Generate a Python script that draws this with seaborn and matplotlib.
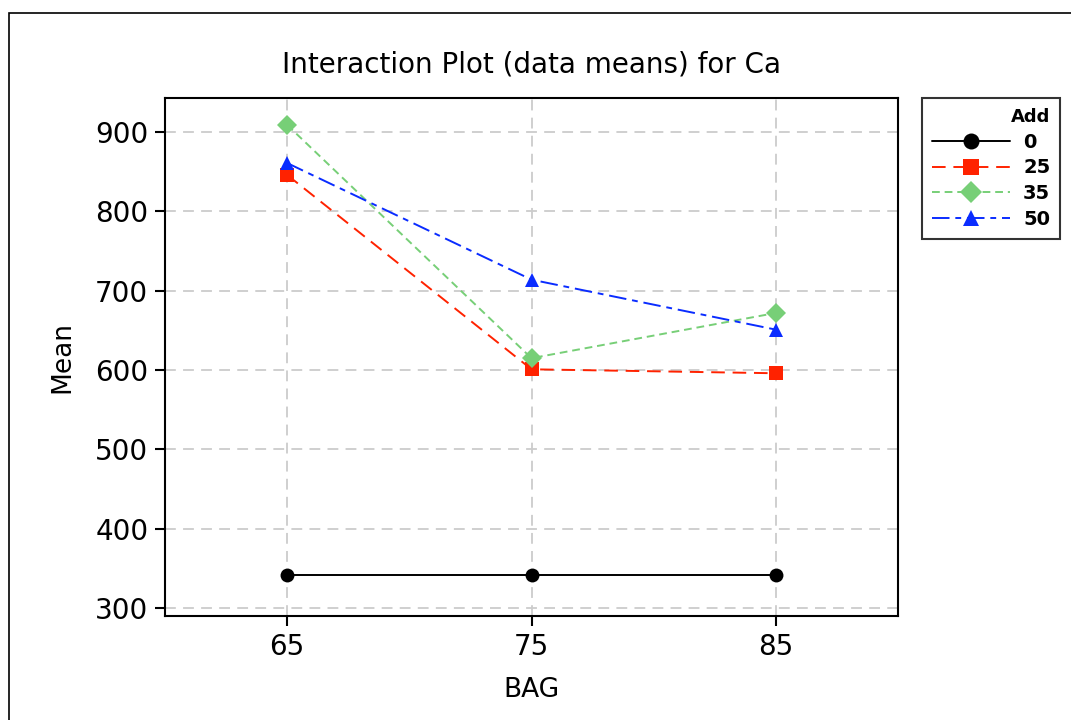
import matplotlib
matplotlib.use("Agg")
import matplotlib.pyplot as plt
import seaborn as sns
import pandas as pd
from matplotlib.patches import Rectangle

bag = [65, 75, 85]
add_levels = ["0", "25", "35", "50"]
mean_0 = [342, 342, 342]
mean_25 = [846, 601, 596]
mean_35 = [909, 615, 672]
mean_50 = [861, 714, 651]
yticks = [300, 400, 500, 600, 700, 800, 900]

rows = []
for lvl, vals in zip(add_levels, [mean_0, mean_25, mean_35, mean_50]):
    for b, v in zip(bag, vals):
        rows.append({"BAG": b, "Mean": v, "Add": lvl})
df = pd.DataFrame(rows)

sns.set_theme(style="white")
plt.rcParams['font.family'] = ['DejaVu Sans']
plt.rcParams['text.color'] = 'black'

palette = {"0": "black", "25": "#FF2200", "35": "#77CF77", "50": "#0A2CFF"}
markers = {"0": "o", "25": "s", "35": "D", "50": "^"}
dashes = {"0": "", "25": (7, 4), "35": (4, 2.5), "50": (9, 3, 3, 3)}

fig = plt.figure(figsize=(10.71, 7.2), dpi=100)
ax = fig.add_axes([165/1071, 1-616/720, (898-165)/1071, (616-98)/720])

sns.lineplot(data=df, x="BAG", y="Mean", hue="Add", style="Add",
             palette=palette, markers=markers, dashes=dashes,
             hue_order=add_levels, style_order=add_levels,
             markersize=10, markeredgewidth=0, linewidth=1.4, ax=ax)

ax.set_xlim(60, 90)
ax.set_ylim(290, 943)
ax.set_xticks(bag)
ax.set_yticks(yticks)
ax.grid(True, color="#cccccc", linestyle=(0, (6, 4)), linewidth=1.3)
ax.set_axisbelow(True)
for s in ax.spines.values():
    s.set_color("black")
    s.set_linewidth(1.5)
ax.tick_params(axis="both", which="major", direction="out", length=7, width=1.5,
               colors="black", labelsize=20, bottom=True, left=True, pad=5)
ax.set_xlabel("BAG", fontsize=19, color="black", labelpad=12)
ax.set_ylabel("Mean", fontsize=19, color="black", labelpad=14)
ax.set_title("Interaction Plot (data means) for Ca", fontsize=20, color="black", pad=18)

leg = ax.legend(title="Add", loc="upper left", bbox_to_anchor=(922/1071, 1-98/720),
                bbox_transform=fig.transFigure, frameon=True, fancybox=False,
                borderaxespad=0, prop={"weight": "bold", "size": 14},
                handlelength=4.0, borderpad=0.5, labelspacing=0.35,
                markerscale=1.15, handletextpad=0.7)
leg.get_title().set_fontweight("bold")
leg.get_title().set_fontsize(13)
leg.get_title().set_color("black")
for t in leg.get_texts():
    t.set_color("black")
leg._legend_box.align = "right"
frame = leg.get_frame()
frame.set_edgecolor("black")
frame.set_linewidth(1.5)

fig.patches.append(Rectangle((9/1071, -0.1), 1.2, 1 - 13/720 + 0.1,
                             transform=fig.transFigure, fill=False,
                             edgecolor="black", linewidth=1.2))

fig.savefig("out.png", dpi=100)
